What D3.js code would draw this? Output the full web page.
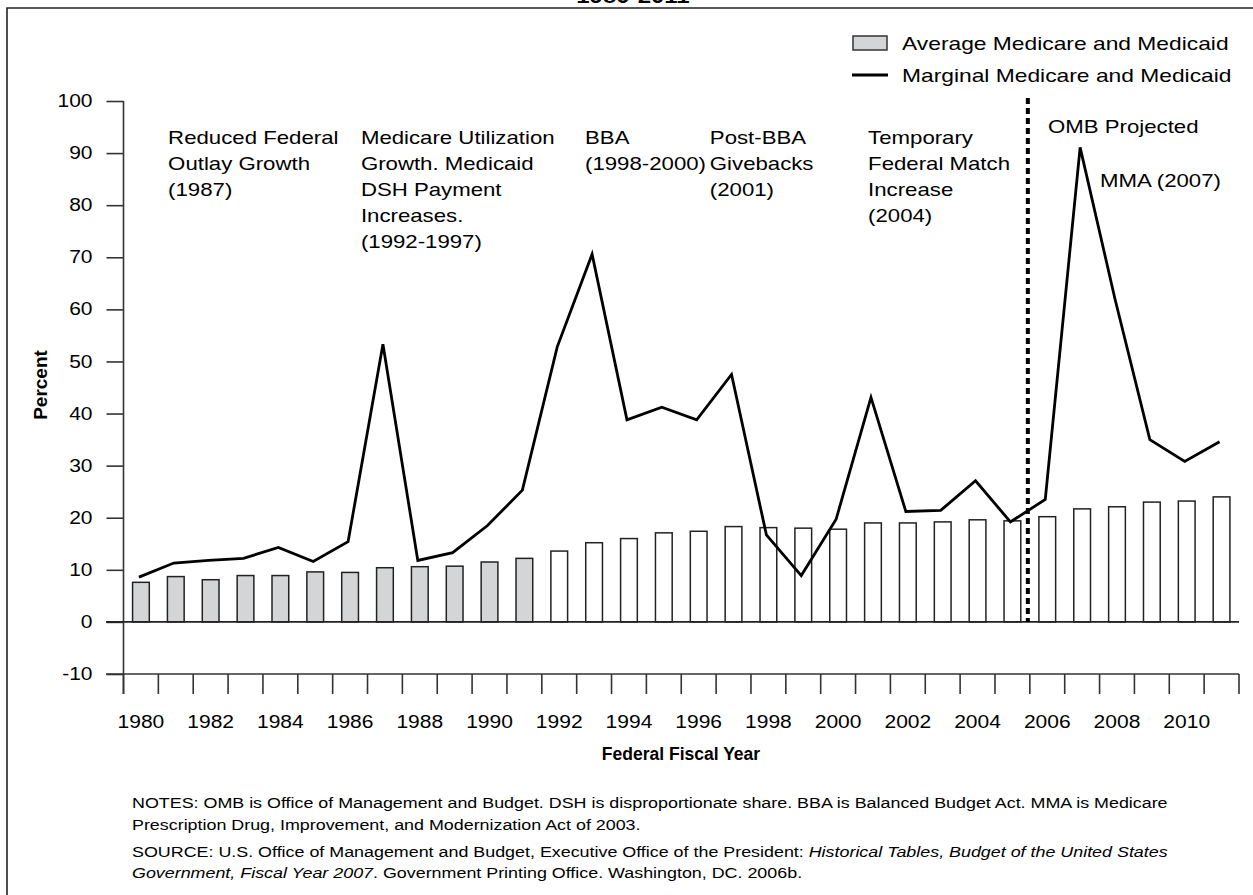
<!DOCTYPE html>
<html>
<head>
<meta charset="utf-8">
<script src="https://cdn.jsdelivr.net/npm/d3@7/dist/d3.min.js"></script>
<style>
  body { margin: 0; background: #fff; }
  svg text { font-family: "Liberation Sans", Arial, Helvetica, sans-serif; fill: #000; }
</style>
</head>
<body>
<div class="chart"></div>
<script>
// DATA
var years = [1980, 1981, 1982, 1983, 1984, 1985, 1986, 1987, 1988, 1989,
  1990, 1991, 1992, 1993, 1994, 1995, 1996, 1997, 1998, 1999,
  2000, 2001, 2002, 2003, 2004, 2005, 2006, 2007, 2008, 2009, 2010, 2011];

// bars - average share (percent)
var averageShare = [7.6, 8.7, 8.1, 8.9, 8.9, 9.6, 9.5, 10.4, 10.6, 10.7,
  11.5, 12.2, 13.6, 15.2, 16.0, 17.1, 17.4, 18.3, 18.1, 18.0,
  17.8, 19.0, 19.0, 19.2, 19.6, 19.4, 20.2, 21.7, 22.1, 23.0, 23.2, 24.0];

// line - marginal share (percent)
var marginalShare = [8.6, 11.3, 11.8, 12.2, 14.3, 11.6, 15.4, 53.3, 11.8, 13.3,
  18.5, 25.3, 52.8, 70.6, 38.8, 41.2, 38.8, 47.5, 16.7, 8.9,
  19.7, 43.1, 21.2, 21.4, 27.1, 19.2, 23.5, 91.1, 62.0, 35.0, 30.8, 34.6];

var yTicks = [-10, 0, 10, 20, 30, 40, 50, 60, 70, 80, 90, 100];
var xTickLabels = [1980, 1982, 1984, 1986, 1988, 1990, 1992, 1994, 1996, 1998,
  2000, 2002, 2004, 2006, 2008, 2010];
var lastShadedYear = 1991;
var projectionStart = 2006;

// event notes, anchored at a (fractional) year on the x axis
var annotations = [
  { year: 1981.28, lines: ["Reduced Federal", "Outlay Growth", "(1987)"] },
  { year: 1986.81, lines: ["Medicare Utilization", "Growth. Medicaid", "DSH Payment", "Increases.", "(1992-1997)"] },
  { year: 1993.24, lines: ["BBA", "(1998-2000)"] },
  { year: 1996.82, lines: ["Post-BBA", "Givebacks", "(2001)"] },
  { year: 2001.36, lines: ["Temporary", "Federal Match", "Increase", "(2004)"] }
];

// SIZE
var svgWidth = 1253;
var svgHeight = 895;
var K = 1.2; // horizontal stretch of the lettering in the original

var svg = d3.select(".chart")
  .append("svg")
  .attr("width", svgWidth)
  .attr("height", svgHeight);

// scales
var xBand = d3.scaleBand()
  .domain(years)
  .range([123.5, 1239])
  .paddingInner(0)
  .paddingOuter(0);

var yScale = d3.scaleLinear()
  .domain([-10, 100])
  .range([674, 101]);

var bw = xBand.bandwidth();
var cx = function(yr) { return xBand(yr) + bw / 2; };
var xAt = function(fy) { return xBand(Math.floor(fy)) + (fy - Math.floor(fy)) * bw; };

// frame
svg.append("path")
  .attr("d", "M7,895 V8 H1253")
  .attr("fill", "none")
  .attr("stroke", "#222")
  .attr("stroke-width", 1.6);

// title (cut off at the top, as in the original)
svg.append("text")
  .attr("class", "s")
  .attr("x", 633)
  .attr("y", 3)
  .attr("text-anchor", "middle")
  .style("font-weight", "bold")
  .style("font-size", "20px")
  .text("1980-2011");

// y axis
var yAxis = d3.axisLeft(yScale)
  .tickValues(yTicks)
  .tickSize(17)
  .tickPadding(14)
  .tickFormat(d => String(d));

var yAxisG = svg.append("g")
  .attr("transform", "translate(123.5,0)")
  .call(yAxis);
yAxisG.select(".domain").remove();
yAxisG.selectAll("line").attr("stroke", "#333").attr("stroke-width", 1.6);
yAxisG.selectAll("text")
  .attr("class", "s")
  .style("font-size", "17.5px")
  .style("font-family", null);

svg.append("line")
  .attr("x1", 123.5).attr("x2", 123.5)
  .attr("y1", yScale(100)).attr("y2", 694)
  .attr("stroke", "#333").attr("stroke-width", 1.6);

// x axis at -10
var xAxisG = svg.append("g");
xAxisG.append("line")
  .attr("x1", 106).attr("x2", 1239)
  .attr("y1", yScale(-10)).attr("y2", yScale(-10))
  .attr("stroke", "#333").attr("stroke-width", 1.6);

xAxisG.selectAll(".xtick")
  .data(years.concat([null]))
  .enter()
  .append("line")
  .attr("class", "xtick")
  .attr("x1", (d, i) => 123.5 + i * bw)
  .attr("x2", (d, i) => 123.5 + i * bw)
  .attr("y1", yScale(-10))
  .attr("y2", 694)
  .attr("stroke", "#333").attr("stroke-width", 1.6);

xAxisG.selectAll(".xlab")
  .data(xTickLabels)
  .enter()
  .append("text")
  .attr("class", "s")
  .attr("x", d => cx(d))
  .attr("y", 728)
  .attr("text-anchor", "middle")
  .style("font-size", "17.5px")
  .text(d => d);

// bars
svg.selectAll(".bar")
  .data(years)
  .enter()
  .append("rect")
  .attr("class", "bar")
  .attr("x", d => cx(d) - bw * 0.24)
  .attr("width", bw * 0.48)
  .attr("y", (d, i) => yScale(averageShare[i]))
  .attr("height", (d, i) => yScale(0) - yScale(averageShare[i]))
  .attr("fill", d => d <= lastShadedYear ? "#d4d5d7" : "#fff")
  .attr("stroke", "#222")
  .attr("stroke-width", 1.5);

// zero line
svg.append("line")
  .attr("x1", 106).attr("x2", 1239)
  .attr("y1", yScale(0)).attr("y2", yScale(0))
  .attr("stroke", "#222").attr("stroke-width", 1.6);

// projection divider
svg.append("line")
  .attr("x1", xBand(projectionStart) - 2).attr("x2", xBand(projectionStart) - 2)
  .attr("y1", 98).attr("y2", yScale(0))
  .attr("stroke", "#000")
  .attr("stroke-width", 4)
  .attr("stroke-dasharray", "6,4");

// marginal line
var line = d3.line()
  .x((d, i) => cx(years[i]) - 2)
  .y(d => yScale(d));

svg.append("path")
  .datum(marginalShare)
  .attr("d", line)
  .attr("fill", "none")
  .attr("stroke", "#000")
  .attr("stroke-width", 2.8)
  .attr("stroke-linejoin", "miter");

// annotations
annotations.forEach(function(a) {
  a.lines.forEach(function(t, j) {
    svg.append("text")
      .attr("class", "s")
      .attr("x", xAt(a.year))
      .attr("y", 144 + j * 26)
      .style("font-size", "18.5px")
      .text(t);
  });
});

svg.append("text")
  .attr("class", "s")
  .attr("x", 1048)
  .attr("y", 133)
  .style("font-size", "18.5px")
  .text("OMB Projected");

svg.append("text")
  .attr("class", "s")
  .attr("x", 1100)
  .attr("y", 187)
  .style("font-size", "18.5px")
  .text("MMA (2007)");

// legend
var legend = svg.append("g");
legend.append("rect")
  .attr("x", 853).attr("y", 36)
  .attr("width", 34).attr("height", 14)
  .attr("fill", "#d4d5d7")
  .attr("stroke", "#333")
  .attr("stroke-width", 1.5);
legend.append("text")
  .attr("class", "s")
  .attr("x", 902).attr("y", 49.5)
  .style("font-size", "19px")
  .text("Average Medicare and Medicaid");
legend.append("line")
  .attr("x1", 852).attr("x2", 888)
  .attr("y1", 75).attr("y2", 75)
  .attr("stroke", "#000").attr("stroke-width", 2.8);
legend.append("text")
  .attr("class", "s")
  .attr("x", 902).attr("y", 81.5)
  .style("font-size", "19px")
  .text("Marginal Medicare and Medicaid");

// axis titles
svg.append("text")
  .attr("transform", "translate(47,385) rotate(-90)")
  .attr("text-anchor", "middle")
  .style("font-weight", "bold")
  .style("font-size", "19px")
  .text("Percent");

svg.append("text")
  .attr("x", 681)
  .attr("y", 760)
  .attr("text-anchor", "middle")
  .style("font-weight", "bold")
  .style("font-size", "17.5px")
  .text("Federal Fiscal Year");

// notes and source
var notes = [
  [{ t: "NOTES: OMB is Office of Management and Budget. DSH is disproportionate share. BBA is Balanced Budget Act. MMA is Medicare" }],
  [{ t: "Prescription Drug, Improvement, and Modernization Act of 2003." }],
  [{ t: "SOURCE: U.S. Office of Management and Budget, Executive Office of the President: " },
   { t: "Historical Tables, Budget of the United States", i: true }],
  [{ t: "Government, Fiscal Year 2007", i: true },
   { t: ". Government Printing Office. Washington, DC. 2006b." }]
];
var noteY = [808, 830, 857, 878];

notes.forEach(function(parts, j) {
  var txt = svg.append("text")
    .attr("class", "s")
    .attr("x", 132)
    .attr("y", noteY[j])
    .style("font-size", "14.9px");
  parts.forEach(function(p) {
    txt.append("tspan")
      .style("font-style", p.i ? "italic" : "normal")
      .text(p.t);
  });
});

// widen lettering like the original
svg.selectAll("text.s").each(function() {
  var w = this.getComputedTextLength();
  d3.select(this)
    .attr("textLength", w * K)
    .attr("lengthAdjust", "spacingAndGlyphs");
});
</script>
</body>
</html>
